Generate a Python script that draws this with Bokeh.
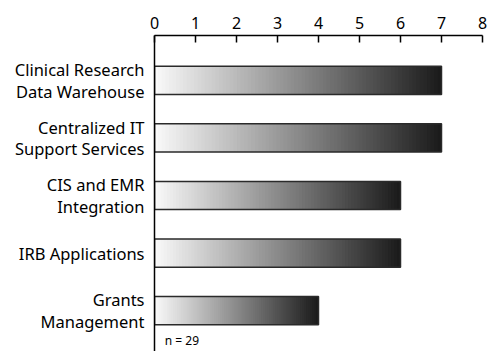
import numpy as np
from bokeh.plotting import figure
from bokeh.models import Range1d, FixedTicker, Label, ColumnDataSource
from bokeh.embed import file_html
from bokeh.resources import INLINE

categories = ["Clinical Research\nData Warehouse", "Centralized IT\nSupport Services",
              "CIS and EMR\nIntegration", "IRB Applications", "Grants\nManagement"]
values = [7, 7, 6, 6, 4]
x_ticks = [0, 1, 2, 3, 4, 5, 6, 7, 8]
note = "n = 29"

FONT = "Noto Sans"
p = figure(width=487, height=351, output_backend="svg", toolbar_location=None,
           x_range=Range1d(0, 8), y_range=Range1d(4.71, -0.78),
           x_axis_location="above", min_border_left=154, min_border_top=35,
           min_border_right=5, min_border_bottom=0)
p.outline_line_color = None
p.grid.visible = False
p.background_fill_color = "white"
p.border_fill_color = "white"

# gradient bars built from overlapping slices
N = 80
lefts, rights, ys, cols = [], [], [], []
for i, v in enumerate(values):
    step = v / N
    for k in range(N):
        t = (k + 0.5) / N
        g = int(round(250 - t * (250 - 26)))
        lefts.append(k * step)
        rights.append(min(v, (k + 2) * step))
        ys.append(i)
        cols.append("#%02x%02x%02x" % (g, g, g))
src = ColumnDataSource(dict(left=lefts, right=rights, y=ys, c=cols))
p.hbar(y="y", left="left", right="right", height=0.49, fill_color="c",
       line_color=None, source=src)

bsrc = ColumnDataSource(dict(y=list(range(len(values))), right=values))
p.hbar(y="y", left=0, right="right", height=0.49, fill_color=None,
       line_color="#2a2a2a", line_width=1.5, source=bsrc)

xa = p.xaxis[0]
xa.ticker = FixedTicker(ticks=x_ticks)
xa.major_tick_in = 7
xa.major_tick_out = 0
xa.minor_tick_line_color = None
xa.axis_line_width = 1.5
xa.major_tick_line_width = 1.5
xa.axis_line_color = "black"
xa.major_tick_line_color = "black"
xa.major_label_text_font = FONT
xa.major_label_text_font_size = "16px"
xa.major_label_text_color = "black"
xa.major_label_standoff = 7

ya = p.yaxis[0]
ya.ticker = FixedTicker(ticks=list(range(len(categories))))
ya.major_label_overrides = {i: c for i, c in enumerate(categories)}
ya.major_tick_line_color = None
ya.minor_tick_line_color = None
ya.axis_line_width = 1.5
ya.axis_line_color = "black"
ya.major_label_text_font = FONT
ya.major_label_text_font_size = "16.5px"
ya.major_label_text_line_height = 0.95
ya.major_label_text_color = "black"
ya.major_label_standoff = 4

p.add_layout(Label(x=0.25, y=4.52, text=note, text_font=FONT, text_font_size="12px",
                   text_baseline="middle", text_color="black"))

open("out.html", "w").write(file_html(p, INLINE))
